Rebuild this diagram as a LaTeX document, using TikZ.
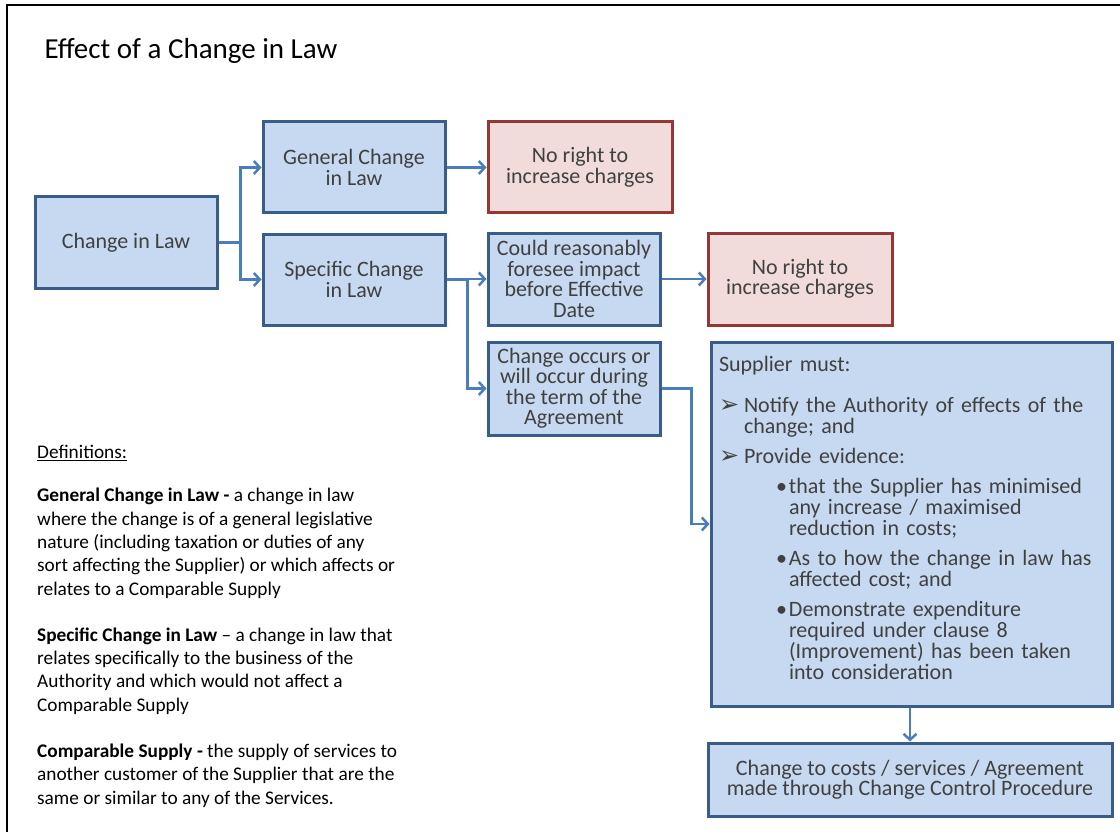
\documentclass[tikz,border=0pt]{standalone}
\usepackage{fontspec}
\setmainfont{Carlito}
\newfontfamily\arrowfont{DejaVu Sans}
\usepackage{tikz}
\usetikzlibrary{arrows.meta}
\definecolor{boxfill}{HTML}{C6D9F1}
\definecolor{boxedge}{HTML}{385D8A}
\definecolor{redfill}{HTML}{F2DCDB}
\definecolor{rededge}{HTML}{953735}
\definecolor{linkblue}{HTML}{4A7EBB}
\definecolor{boxtext}{HTML}{404040}
\newcommand{\arr}{\makebox[25pt][l]{\arrowfont\fontsize{24}{20}\selectfont ➢}}
\newcommand{\dotitem}{\hspace*{57pt}\makebox[13pt][l]{•}}
\newcommand{\dotrest}{\hspace*{70pt}}

\begin{document}
\begin{tikzpicture}[x=1pt,y=-1pt,
  bluebox/.style={draw=boxedge, fill=boxfill, line width=3pt, text=boxtext,
    align=center, inner sep=0pt, font=\fontsize{22}{20.5}\selectfont},
  redbox/.style={bluebox, draw=rededge, fill=redfill},
  link/.style={draw=linkblue, line width=2.5pt, ->},
  >={Straight Barb[length=6pt,width=13pt]}]
  \useasboundingbox (0,0) rectangle (1120,832);
  \clip (0,0) rectangle (1120,832);
  % Frame and title
  \draw[line width=2pt] (7,850) |- (1130,5);
  \node[anchor=west, font=\fontsize{29}{30}\selectfont] (title) at (41,51) {Effect of a Change in Law};
  % Flow boxes
  \node[bluebox, minimum width=182pt, minimum height=91pt] (law) at (126,242.5) {Change in Law};
  \node[bluebox, minimum width=182pt, minimum height=91pt] (general) at (354,167.5) {General Change\\in Law};
  \node[bluebox, minimum width=182pt, minimum height=91pt] (specific) at (354,279.5) {Specific Change\\in Law};
  \node[redbox, minimum width=184pt, minimum height=91pt] (noright1) at (580,167.5) {No right to\\increase charges};
  \node[bluebox, minimum width=172pt, minimum height=92pt] (foresee) at (574,279) {Could reasonably\\foresee impact\\before Effective\\Date};
  \node[bluebox, minimum width=172pt, minimum height=93pt] (during) at (574,388.5) {Change occurs or\\will occur during\\the term of the\\Agreement};
  \node[redbox, minimum width=184pt, minimum height=92pt] (noright2) at (800,279) {No right to\\increase charges};
  \node[bluebox, align=left, text width=385pt, inner xsep=8pt, minimum width=401pt, minimum height=364pt,
    font=\fontsize{22}{21}\selectfont] (must) at (911.5,524) {%
    Supplier must:\\[20pt]
    \arr Notify the Authority of effects of the\\
    \hspace*{25pt}change; and\\[9pt]
    \arr Provide evidence:\\[9pt]
    \dotitem that the Supplier has minimised\\
    \dotrest any increase / maximised\\
    \dotrest reduction in costs;\\[9pt]
    \dotitem As to how the change in law has\\
    \dotrest affected cost; and\\[9pt]
    \dotitem Demonstrate expenditure\\
    \dotrest required under clause 8\\
    \dotrest (Improvement) has been taken\\
    \dotrest into consideration\\[-9pt]\mbox{}};
  \node[bluebox, minimum width=404pt, minimum height=73pt] (costs) at (910,779.5) {Change to costs / services / Agreement\\made through Change Control Procedure};
  % Connectors
  \draw[link] (law.east) -- ++(22,0) |- (general.west);
  \draw[link] (law.east) -- ++(22,0) |- (specific.west);
  \draw[link] (general) -- (noright1);
  \draw[link] (specific.east) -- ++(21,0) |- (foresee.west);
  \draw[link] (specific.east) -- ++(21,0) |- (during.west);
  \draw[link] (foresee) -- (noright2);
  \draw[link] (during.east) -- ++(30,0) |- (must.west);
  \draw[link] (costs.north |- must.south) -- (costs.north);
  % Definitions
  \node[anchor=north west, align=left, inner sep=0pt, font=\fontsize{19.3}{23.3}\selectfont] (defs) at (37,445) {%
    \underline{Definitions:}\\[20pt]
    \textbf{General Change in Law -} a change in law\\
    where the change is of a general legislative\\
    nature (including taxation or duties of any\\
    sort affecting the Supplier) or which affects or\\
    relates to a Comparable Supply\\[23pt]
    \textbf{Specific Change in Law} -- a change in law that\\
    relates specifically to the business of the\\
    Authority and which would not affect a\\
    Comparable Supply\\[23pt]
    \textbf{Comparable Supply -} the supply of services to\\
    another customer of the Supplier that are the\\
    same or similar to any of the Services.};
\end{tikzpicture}
\end{document}
